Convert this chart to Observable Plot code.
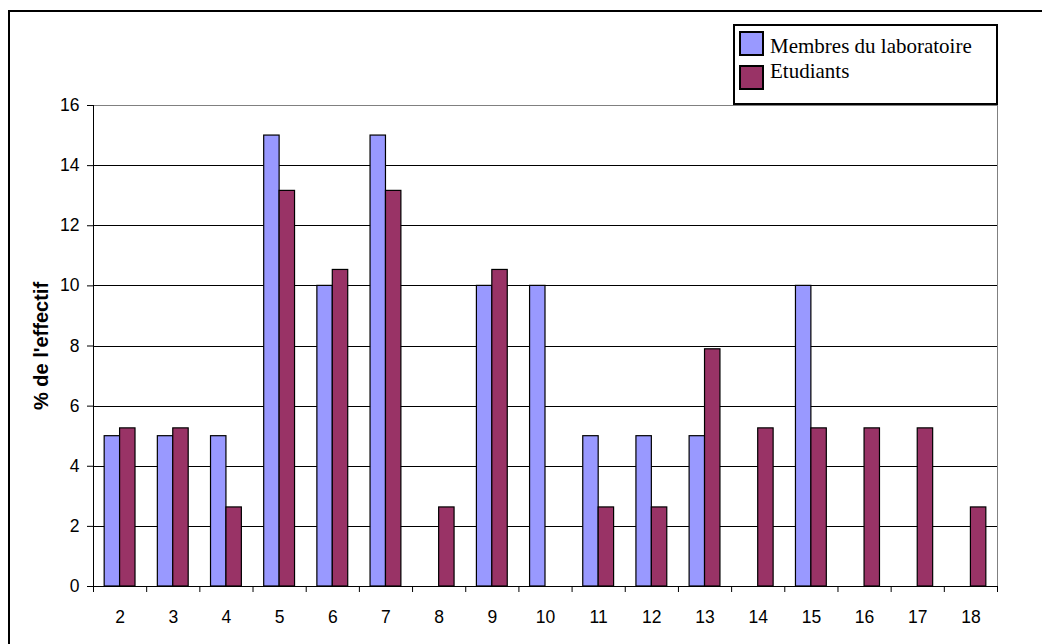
<!DOCTYPE html>
<html>
<head>
<meta charset="utf-8">
<script src="https://cdn.jsdelivr.net/npm/d3@7"></script>
<script src="https://cdn.jsdelivr.net/npm/@observablehq/plot@0.6"></script>
<style>
  html, body { margin: 0; padding: 0; background: #fff; overflow: hidden; }
  #wrap { position: relative; width: 1042px; height: 644px; overflow: hidden; }
  #frame { position: absolute; left: 8px; top: 10px; width: 1100px; height: 700px; border: 2px solid #000; box-sizing: border-box; pointer-events: none; }
  #chart { position: absolute; left: 0; top: 0; }
  #legend { position: absolute; left: 733px; top: 24px; width: 265px; height: 81px; border: 2px solid #000; box-sizing: border-box; background: #fff;
    font-family: "Liberation Serif", "Times New Roman", serif; font-size: 21px; line-height: 21px; color: #000; }
  .sw { position: absolute; left: 4px; width: 25px; height: 25px; border: 2px solid #000; box-sizing: border-box; }
  .lt { position: absolute; left: 35px; white-space: nowrap; }
</style>
</head>
<body>
<div id="wrap">
  <div id="chart"></div>
  <div id="frame"></div>
  <div id="legend"></div>
</div>
<script>
const categories = [2, 3, 4, 5, 6, 7, 8, 9, 10, 11, 12, 13, 14, 15, 16, 17, 18];
const membres    = [5, 5, 5, 15, 10, 15, 0, 10, 10, 5, 5, 5, 0, 10, 0, 0, 0];
const etudiants  = [5.26, 5.26, 2.63, 13.16, 10.53, 13.16, 2.63, 10.53, 0, 2.63, 2.63, 7.89, 5.26, 5.26, 5.26, 5.26, 2.63];
const seriesNames = ["Membres du laboratoire", "Etudiants"];
const seriesColors = ["#9999FF", "#993366"];
const yTicks = [0, 2, 4, 6, 8, 10, 12, 14, 16];
const yLabel = "% de l'effectif";

const half = 0.29;
const rows = [];
categories.forEach((c, i) => {
  rows.push({cat: c, s: 0, v: membres[i]});
  rows.push({cat: c, s: 1, v: etudiants[i]});
});
const bars = rows.filter(d => d.v > 0);
const boundaries = d3.range(categories.length + 1).map(i => categories[0] - 0.5 + i);

const plot = Plot.plot({
  width: 1042,
  height: 644,
  marginLeft: 93,
  marginRight: 45,
  marginTop: 105,
  marginBottom: 58,
  style: {fontFamily: "'Liberation Sans', Arial, sans-serif", fontSize: "17.5px", background: "transparent"},
  x: {type: "linear", domain: [categories[0] - 0.5, categories[categories.length - 1] + 0.5], axis: null},
  y: {domain: [0, 16], axis: null},
  marks: [
    Plot.ruleY(yTicks.filter(t => t > 0 && t < 16), {stroke: "#000", strokeWidth: 1, shapeRendering: "crispEdges"}),
    Plot.ruleY([16], {stroke: "#808080", strokeWidth: 1, shapeRendering: "crispEdges"}),
    Plot.ruleX([boundaries[boundaries.length - 1]], {stroke: "#808080", strokeWidth: 1, shapeRendering: "crispEdges"}),
    Plot.rectY(bars, {
      x1: d => d.s === 0 ? d.cat - half : d.cat,
      x2: d => d.s === 0 ? d.cat : d.cat + half,
      y1: 0, y2: "v",
      fill: d => seriesColors[d.s],
      stroke: "#000", strokeWidth: 1.2
    }),
    Plot.ruleY([0], {stroke: "#000", strokeWidth: 1, shapeRendering: "crispEdges"}),
    Plot.ruleX([boundaries[0]], {stroke: "#000", strokeWidth: 1, shapeRendering: "crispEdges"}),
    Plot.axisY({ticks: yTicks, tickSize: 6, tickPadding: 8, label: null, stroke: "#000", fill: "#000"}),
    Plot.axisX({ticks: boundaries, tickSize: 6, tickFormat: () => "", label: null, stroke: "#000"}),
    Plot.axisX({ticks: categories, tickSize: 0, tickPadding: 24, tickFormat: d => String(d), label: null, fill: "#000"}),
    Plot.text([yLabel], {frameAnchor: "left", textAnchor: "middle", rotate: -90, dx: -52, fontWeight: "bold", fontSize: 20, fill: "#000", text: d => d})
  ]
});
document.getElementById("chart").appendChild(plot);

const legend = document.getElementById("legend");
const swTops = [5, 39];
const textTops = [10, 35];
seriesNames.forEach((name, i) => {
  const sw = document.createElement("div");
  sw.className = "sw";
  sw.style.top = swTops[i] + "px";
  sw.style.background = seriesColors[i];
  legend.appendChild(sw);
  const t = document.createElement("div");
  t.className = "lt";
  t.style.top = textTops[i] + "px";
  t.textContent = name;
  legend.appendChild(t);
});
</script>
</body>
</html>
